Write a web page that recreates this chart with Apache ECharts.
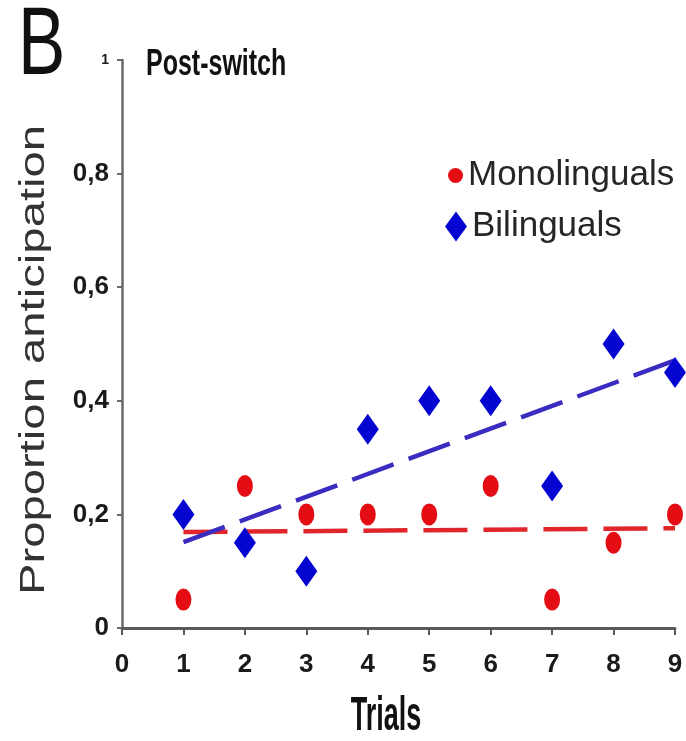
<!DOCTYPE html>
<html>
<head>
<meta charset="utf-8">
<script src="https://cdn.jsdelivr.net/npm/echarts@6/dist/echarts.min.js"></script>
<style>
  html, body { margin: 0; padding: 0; background: #fff; }
  #chart { width: 686px; height: 741px; }
</style>
</head>
<body>
<div id="chart"></div>
<script>
// Trial numbers and proportion of anticipatory looks per group
const trials = [1, 2, 3, 4, 5, 6, 7, 8, 9];
const monolinguals = [0.05, 0.25, 0.2, 0.2, 0.2, 0.25, 0.05, 0.15, 0.2];
const bilinguals = [0.2, 0.15, 0.1, 0.35, 0.4, 0.4, 0.25, 0.5, 0.45];
const xTicks = [0, 1, 2, 3, 4, 5, 6, 7, 8, 9];
const yTicks = [0, 0.2, 0.4, 0.6, 0.8, 1];

// Least-squares linear fit, returned as its two end points
function trend(xs, ys) {
  const n = xs.length;
  const mx = xs.reduce((a, b) => a + b, 0) / n;
  const my = ys.reduce((a, b) => a + b, 0) / n;
  let sxy = 0, sxx = 0;
  for (let i = 0; i < n; i++) {
    sxy += (xs[i] - mx) * (ys[i] - my);
    sxx += (xs[i] - mx) * (xs[i] - mx);
  }
  const k = sxy / sxx;
  const x0 = Math.min(...xs), x1 = Math.max(...xs);
  return [[x0, my + k * (x0 - mx)], [x1, my + k * (x1 - mx)]];
}

const RED = '#e50d14';
const BLUE = '#0505d2';
const TICK_FONT = '"Liberation Sans Narrow", "Liberation Sans", Arial, sans-serif';
const SANS = '"Liberation Sans", Arial, sans-serif';

const chart = echarts.init(document.getElementById('chart'), null, { renderer: 'canvas' });

chart.setOption({
  animation: false,
  backgroundColor: '#ffffff',
  grid: { left: 122, right: 11, top: 60, bottom: 113, containLabel: false },
  xAxis: {
    type: 'value',
    min: xTicks[0],
    max: xTicks[xTicks.length - 1],
    interval: 1,
    splitLine: { show: false },
    axisLine: { onZero: false, lineStyle: { color: '#5a5a5a', width: 3 } },
    axisTick: { show: true, inside: false, length: 7, lineStyle: { color: '#5a5a5a', width: 2 } },
    axisLabel: {
      margin: 24,
      color: '#1a1a1a',
      fontFamily: TICK_FONT,
      fontWeight: 'bold',
      fontSize: 26
    }
  },
  yAxis: {
    type: 'value',
    min: yTicks[0],
    max: yTicks[yTicks.length - 1],
    interval: 0.2,
    splitLine: { show: false },
    axisLine: { lineStyle: { color: '#6a6a6a', width: 2.5 } },
    axisTick: { show: true, inside: false, length: 5, lineStyle: { color: '#6a6a6a', width: 2 } },
    axisLabel: {
      margin: 13,
      color: '#1a1a1a',
      fontFamily: TICK_FONT,
      fontWeight: 'bold',
      fontSize: 26,
      formatter: function (v) {
        if (v === 1) return '{s|1}';
        return String(Math.round(v * 10) / 10).replace('.', ',');
      },
      rich: {
        s: { fontSize: 14, fontWeight: 'bold', fontFamily: TICK_FONT, color: '#1a1a1a' }
      }
    }
  },
  legend: [
    {
      data: ['Monolinguals'],
      orient: 'vertical',
      left: 443,
      top: 153,
      itemWidth: 15,
      itemHeight: 20,
      selectedMode: false,
      textStyle: { fontFamily: SANS, fontSize: 35, color: '#262626' }
    },
    {
      data: ['Bilinguals'],
      orient: 'vertical',
      left: 440,
      top: 204,
      itemWidth: 22,
      itemHeight: 30,
      selectedMode: false,
      textStyle: { fontFamily: SANS, fontSize: 35, color: '#262626' }
    }
  ],
  series: [
    {
      name: 'Monolinguals fit',
      type: 'line',
      data: trend(trials, monolinguals),
      symbol: 'none',
      z: 1,
      lineStyle: { color: '#e0262a', width: 4.5, type: [44, 16] }
    },
    {
      name: 'Bilinguals fit',
      type: 'line',
      data: trend(trials, bilinguals),
      symbol: 'none',
      z: 1,
      lineStyle: { color: '#3a2cc0', width: 4.5, type: [44, 16] }
    },
    {
      name: 'Monolinguals',
      type: 'scatter',
      data: trials.map((t, i) => [t, monolinguals[i]]),
      symbol: 'circle',
      symbolSize: [16, 22],
      clip: false,
      z: 3,
      itemStyle: { color: RED, opacity: 1 }
    },
    {
      name: 'Bilinguals',
      type: 'scatter',
      data: trials.map((t, i) => [t, bilinguals[i]]),
      symbol: 'diamond',
      symbolSize: [22, 31],
      clip: false,
      z: 3,
      itemStyle: { color: BLUE, opacity: 1 }
    }
  ],
  graphic: [
    {
      type: 'text',
      x: 18, y: 48,
      scaleY: 1.35,
      style: {
        text: 'B',
        font: 'normal 71px ' + SANS,
        fill: '#111111',
        textAlign: 'left',
        textVerticalAlign: 'middle'
      }
    },
    {
      type: 'text',
      x: 146, y: 65,
      scaleY: 1.5,
      style: {
        text: 'Post-switch',
        font: 'bold 25px ' + SANS,
        fill: '#111111',
        textAlign: 'left',
        textVerticalAlign: 'middle'
      }
    },
    {
      type: 'text',
      x: 386, y: 717,
      scaleY: 1.8,
      style: {
        text: 'Trials',
        font: 'bold 27px ' + SANS,
        fill: '#111111',
        textAlign: 'center',
        textVerticalAlign: 'middle'
      }
    },
    {
      type: 'text',
      x: 34.5, y: 360,
      rotation: Math.PI / 2,
      scaleX: 1.35,
      style: {
        text: 'Proportion anticipation',
        font: 'normal 35px ' + SANS,
        fill: '#333333',
        textAlign: 'center',
        textVerticalAlign: 'middle'
      }
    }
  ]
});
</script>
</body>
</html>
